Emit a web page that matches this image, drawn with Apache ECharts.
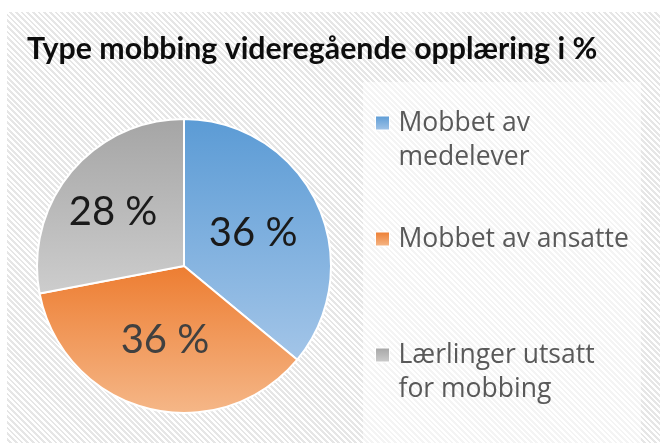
<!DOCTYPE html>
<html>
<head>
<meta charset="utf-8">
<script src="https://cdn.jsdelivr.net/npm/echarts@6/dist/echarts.min.js"></script>
<style>
  html, body { margin: 0; padding: 0; background: #fff; }
  #wrap { position: relative; width: 660px; height: 443px; }
  #bg {
    position: absolute; left: 7px; top: 12px; right: 0; bottom: 0;
    background: repeating-linear-gradient(45deg, #ffffff 0px, #ffffff 2px, #e6e6e6 2px, #e6e6e6 4px);
  }
  #chart { position: absolute; left: 0; top: 0; width: 660px; height: 443px; }
</style>
</head>
<body>
<div id="wrap">
  <div id="bg"></div>
  <div id="chart"></div>
</div>
<script>
  var titleText = 'Type mobbing videregående opplæring i %';
  var categories = ['Mobbet av medelever', 'Mobbet av ansatte', 'Lærlinger utsatt for mobbing'];
  var values = [36, 36, 28];

  // gradient per slice: top colour -> bottom colour
  var topColors = ['#5b9bd5', '#ed7d31', '#a5a5a5'];
  var bottomColors = ['#a3c5e8', '#f5b788', '#cdcdcd'];
  var labelColors = ['#1a1a1a', '#404040', '#1a1a1a'];

  var legendFont = '26.5px "Open Sans"';
  var legendWrap = 234;

  function grad(a, b) {
    return new echarts.graphic.LinearGradient(0, 0, 0, 1, [
      { offset: 0, color: a },
      { offset: 1, color: b }
    ]);
  }

  // wrapped names get an empty first line so the icon sits on the first text line
  var ctx = document.createElement('canvas').getContext('2d');
  ctx.font = legendFont;
  function legendText(name) {
    return ctx.measureText(name).width > legendWrap ? '\n' + name : name;
  }

  var pieData = categories.map(function (name, i) {
    return {
      name: name,
      value: values[i],
      itemStyle: { color: grad(topColors[i], bottomColors[i]) },
      label: { color: labelColors[i] }
    };
  });
  // gray label sits a bit further left/up in the original
  pieData[2].label.offset = [-12, -5];

  var chart = echarts.init(document.getElementById('chart'));
  var option = {
    backgroundColor: 'transparent',
    animation: false,
    title: {
      text: titleText,
      left: 22,
      top: 29,
      textStyle: {
        fontFamily: 'Lato',
        fontSize: 30.3,
        fontWeight: 'bold',
        color: '#0d0d0d'
      }
    },
    graphic: [{
      type: 'rect',
      left: 363,
      top: 82,
      shape: { width: 278, height: 361 },
      style: { fill: 'rgba(255,255,255,0.55)' },
      z: -1
    }],
    legend: {
      orient: 'vertical',
      left: 370,
      top: 67,
      itemWidth: 14,
      itemHeight: 14,
      itemGap: 48,
      icon: 'rect',
      itemStyle: { borderColor: '#fff', borderWidth: 1 },
      data: categories,
      formatter: legendText,
      textStyle: {
        fontFamily: 'Open Sans',
        fontSize: 26.5,
        color: '#595959',
        lineHeight: 34,
        width: legendWrap,
        overflow: 'break',
        padding: [0, 0, 0, 4]
      }
    },
    series: [{
      type: 'pie',
      center: [184, 266],
      radius: 147,
      startAngle: 90,
      clockwise: true,
      data: pieData,
      itemStyle: { borderColor: '#fff', borderWidth: 2 },
      label: {
        show: true,
        position: 'inside',
        formatter: '{c} %',
        fontFamily: 'Lato',
        fontSize: 40
      },
      labelLine: { show: false },
      emphasis: { disabled: true }
    }]
  };
  chart.setOption(option);
</script>
</body>
</html>
